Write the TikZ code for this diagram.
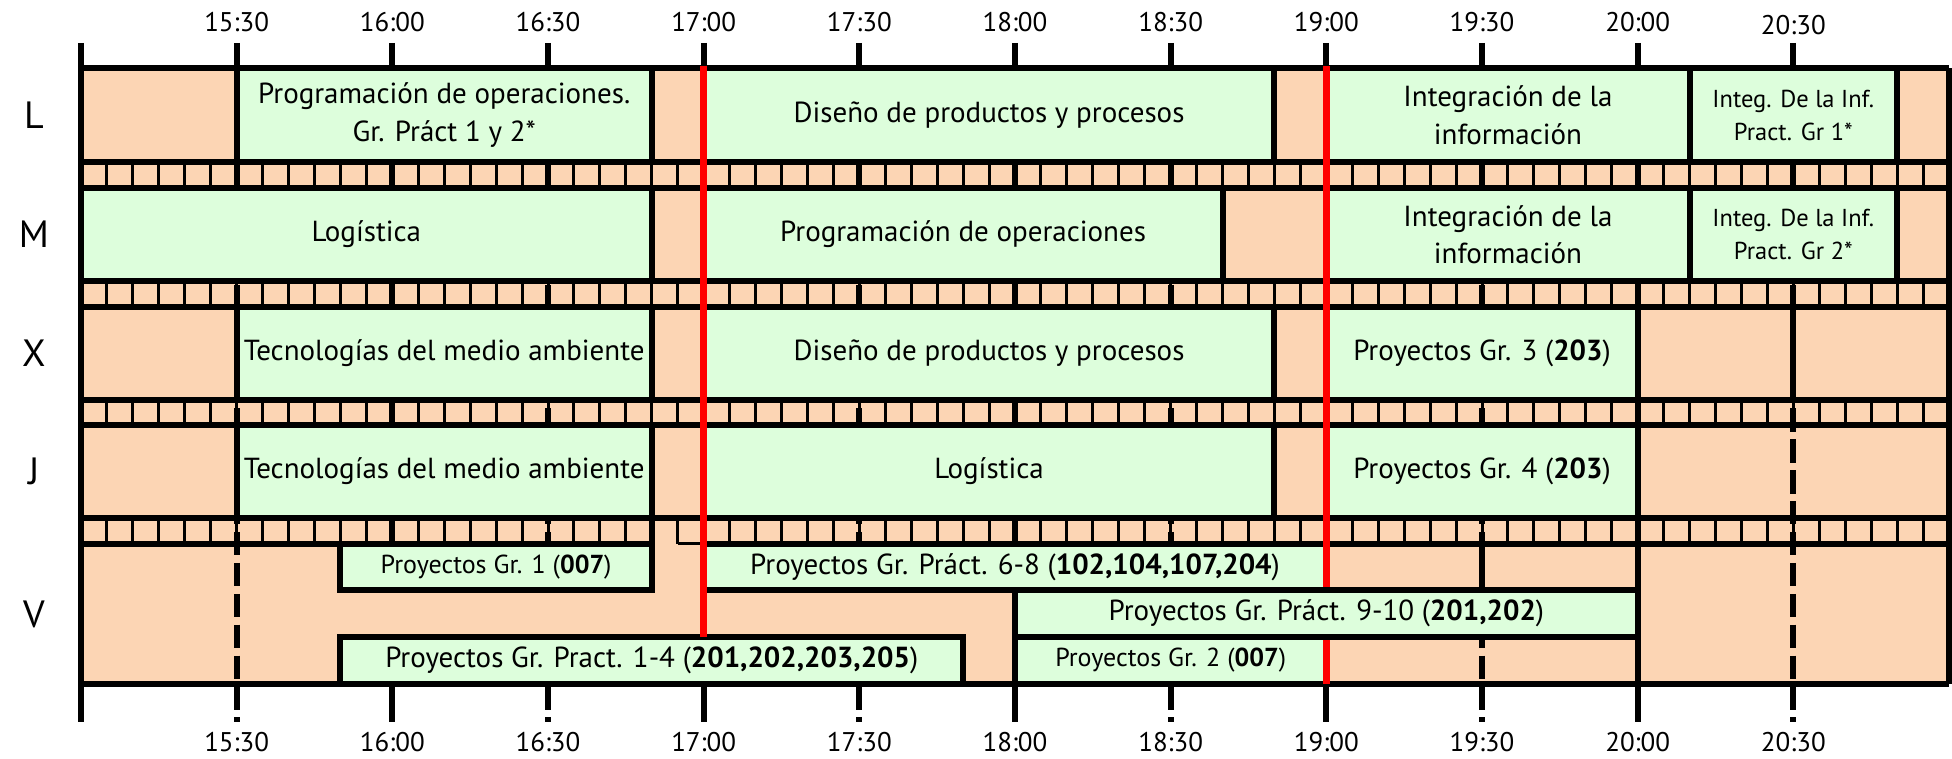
\documentclass[tikz,border=0pt]{standalone}
\usepackage{fontspec}
\setmainfont{PT Sans}
\definecolor{peach}{RGB}{252,213,180}
\definecolor{lgreen}{RGB}{221,254,220}
\definecolor{redline}{RGB}{255,0,0}
\newcommand\gcell[7][]{\node[gbox,#1,minimum width={(#4-#3)*5.18889pt},minimum height={(#6-#5)*1pt}] (#2) at (#3,#5) {#7};}
\begin{document}
\begin{tikzpicture}[x=5.18889pt,y=-1pt,
  thickline/.style={line width=6pt},
  thinline/.style={line width=3pt},
  redl/.style={line width=7pt,draw=redline},
  gbox/.style={draw=black,fill=lgreen,line width=6pt,inner sep=0pt,outer sep=0pt,align=center,anchor=north west,font=\fontsize{29}{37.5}\selectfont},
  gsmall/.style={font=\fontsize{24.5}{33.5}\selectfont},
  vsmall/.style={font=\fontsize{26}{30}\selectfont},
  tlabel/.style={font=\fontsize{27}{30}\selectfont,inner sep=0pt},
  dlabel/.style={font=\fontsize{38}{42}\selectfont,inner sep=0pt}]
\useasboundingbox (-15.61,0) rectangle (360.58,759);
% background
\fill[peach] (0,68.5) rectangle (360,683.5);
% separator dividers
\foreach \ya/\yb in {162/188,281/307,400/425,518/544}{
  \foreach \k in {1,...,71}{\draw[thinline] (5*\k,\ya) -- (5*\k,\yb);}
}
% half-hour dashed lines and ticks
\foreach \m in {30,90,150,210,270,330}{
  \draw[thickline,dash pattern=on 23.4pt off 7.5pt] (\m,68.5) -- (\m,722);
  \draw[thickline] (\m,43) -- (\m,68.5);
}
% hour lines
\foreach \m in {60,120,180,240,300}{\draw[thickline] (\m,43) -- (\m,722);}
\draw[thickline] (0,43) -- (0,722);
\draw[thickline] (360,68.5) -- (360,683.5);
% cover of the merged cell in V
\fill[peach] (50,590) rectangle (180,637);
% row L
\gcell{L1}{30}{110}{68.5}{162}{Programación de operaciones.\\Gr. Práct 1 y 2*}
\gcell{L2}{120}{230}{68.5}{162}{Diseño de productos y procesos}
\gcell{L3}{240}{310}{68.5}{162}{Integración de la\\información}
\gcell[gsmall]{L4}{310}{350}{68.5}{162}{Integ. De la Inf.\\Pract. Gr 1*}
% row M
\gcell{M1}{0}{110}{188}{281}{Logística}
\gcell{M2}{120}{220}{188}{281}{Programación de operaciones}
\gcell{M3}{240}{310}{188}{281}{Integración de la\\información}
\gcell[gsmall]{M4}{310}{350}{188}{281}{Integ. De la Inf.\\Pract. Gr 2*}
% row X
\gcell{X1}{30}{110}{307}{400}{Tecnologías del medio ambiente}
\gcell{X2}{120}{230}{307}{400}{Diseño de productos y procesos}
\gcell{X3}{240}{300}{307}{400}{Proyectos Gr. 3 (\textbf{203})}
% row J
\gcell{J1}{30}{110}{425}{518}{Tecnologías del medio ambiente}
\gcell{J2}{120}{230}{425}{518}{Logística}
\gcell{J3}{240}{300}{425}{518}{Proyectos Gr. 4 (\textbf{203})}
% row V
\gcell[vsmall]{V1}{50}{110}{544}{590}{Proyectos Gr. 1 (\textbf{007})}
\gcell{V2}{120}{240}{544}{590}{Proyectos Gr. Práct. 6-8 (\textbf{102,104,107,204})}
\gcell{V4}{50}{170}{637}{683.5}{Proyectos Gr. Pract. 1-4 (\textbf{201,202,203,205})}
\gcell[vsmall]{V5}{180}{240}{637}{683.5}{Proyectos Gr. 2 (\textbf{007})}
% horizontal main lines
\foreach \y in {68.5,162,188,281,307,400,425,518,683.5}{\draw[thickline] (0,\y) -- (360,\y);}
\draw[thickline] (0,544) -- (110,544);
\draw[thinline] (115,544) -- (120,544);
\draw[thickline] (120,544) -- (360,544);
% special cell borders
\draw[thickline] (330,307) -- (330,400);
\draw[thickline] (270,544) -- (270,590);
\draw[thickline] (110,518) -- (110,544);
% red lines
\draw[redl] (120,66) -- (120,637);
\draw[redl] (240,66) -- (240,684);
% box over the red line
\gcell{V3}{180}{300}{590}{637}{Proyectos Gr. Práct. 9-10 (\textbf{201,202})}
% time labels
\foreach \m/\t in {30/15:30,60/16:00,90/16:30,120/17:00,150/17:30,180/18:00,210/18:30,240/19:00,270/19:30,300/20:00}{
  \node[tlabel] (top\m) at (\m,22) {\t};
  \node[tlabel] (bot\m) at (\m,742) {\t};
}
\node[tlabel] (top330) at (330,25) {20:30};
\node[tlabel] (bot330) at (330,742) {20:30};
% day labels
\node[dlabel] (dL) at (-9.06,115) {L};
\node[dlabel] (dM) at (-9.06,234.5) {M};
\node[dlabel] (dX) at (-9.06,353.5) {X};
\node[dlabel] (dJ) at (-9.06,471.5) {J};
\node[dlabel] (dV) at (-9.06,614) {V};
\end{tikzpicture}
\end{document}
